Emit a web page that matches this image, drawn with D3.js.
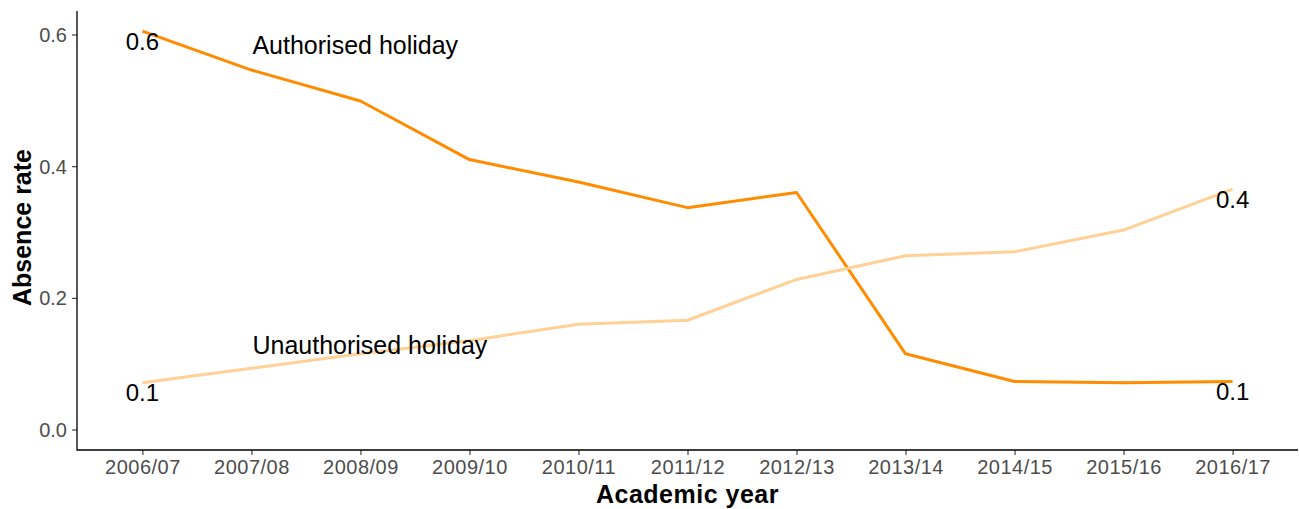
<!DOCTYPE html>
<html><head><meta charset="utf-8">
<script src="https://cdn.jsdelivr.net/npm/d3@7"></script>
<style>body{margin:0;background:#fff}text{font-family:"Liberation Sans",Arial,sans-serif}</style>
</head><body><svg id="c" width="1299" height="509"></svg>
<script>
const years = ["2006/07","2007/08","2008/09","2009/10","2010/11","2011/12","2012/13","2013/14","2014/15","2015/16","2016/17"];
const authorised = [0.605,0.546,0.499,0.410,0.376,0.337,0.360,0.115,0.073,0.071,0.073];
const unauthorised = [0.071,0.093,0.115,0.135,0.160,0.166,0.228,0.264,0.270,0.303,0.365];
const yTicks = [0.0,0.2,0.4,0.6];
const seriesNames = ["Authorised holiday","Unauthorised holiday"];
const colors = ["#FF8C00","#FFD196"];

(function(){
const svg = d3.select("#c");
const mL = 77, mR = 1298, mT = 11, mB = 450;
const x = d3.scalePoint().domain(years).range([mL, mR]).padding(0.6);
const y = d3.scaleLinear().domain([-0.0311, 0.6357]).range([mB, mT]);

const ya = svg.append("g").attr("transform",`translate(${mL},0)`)
  .call(d3.axisLeft(y).tickValues(yTicks).tickFormat(d3.format(".1f")).tickSizeOuter(0).tickSize(5));
const xa = svg.append("g").attr("transform",`translate(0,${mB})`)
  .call(d3.axisBottom(x).tickSizeOuter(0).tickSize(5));
[ya,xa].forEach(g=>{
  g.select(".domain").remove();
  g.selectAll(".tick line").attr("stroke","#333").attr("stroke-width",1.1);
  g.selectAll(".tick text").attr("fill","#4d4d4d").style("font-size","20px").style("font-family","Liberation Sans, Arial, sans-serif");
});
ya.selectAll(".tick text").attr("x",-10).attr("dy","0.35em");
xa.selectAll(".tick text").attr("y",10).attr("dy","0.71em").style("letter-spacing","0.5px");
svg.append("path").attr("d",`M${mL},${mT}V${mB}H${mR}`).attr("fill","none")
  .attr("stroke","#000").attr("stroke-width",1.3).attr("stroke-linejoin","miter");

const line = d3.line().x((d,i)=>x(years[i])).y(d=>y(d));
[authorised, unauthorised].forEach((s,k)=>{
  svg.append("path").datum(s).attr("d",line).attr("fill","none")
    .attr("stroke",colors[k]).attr("stroke-width",3).attr("stroke-linejoin","round");
});

const fmt = d3.format(".1f");
[authorised, unauthorised].forEach(s=>{
  [0, s.length-1].forEach(i=>{
    svg.append("text").attr("x",x(years[i])).attr("y",y(s[i])+10).attr("dy","0.35em")
      .attr("text-anchor","middle").style("font-size","24px").attr("fill","#000").text(fmt(s[i]));
  });
});

const annY = [0.584, 0.128];
seriesNames.forEach((n,k)=>{
  svg.append("text").attr("x",x(years[1])+1).attr("y",y(annY[k])).attr("dy","0.35em")
    .style("font-size","25px").attr("fill","#000").text(n);
});

svg.append("text").attr("x",(mL+mR)/2).attr("y",503).attr("text-anchor","middle")
  .style("font-size","25px").style("font-weight","bold").style("letter-spacing","0.5px").text("Academic year");
svg.append("text").attr("transform",`translate(31,${(mT+mB)/2 - 3}) rotate(-90)`).attr("text-anchor","middle")
  .style("font-size","25px").style("font-weight","bold").text("Absence rate");
})();
</script></body></html>
